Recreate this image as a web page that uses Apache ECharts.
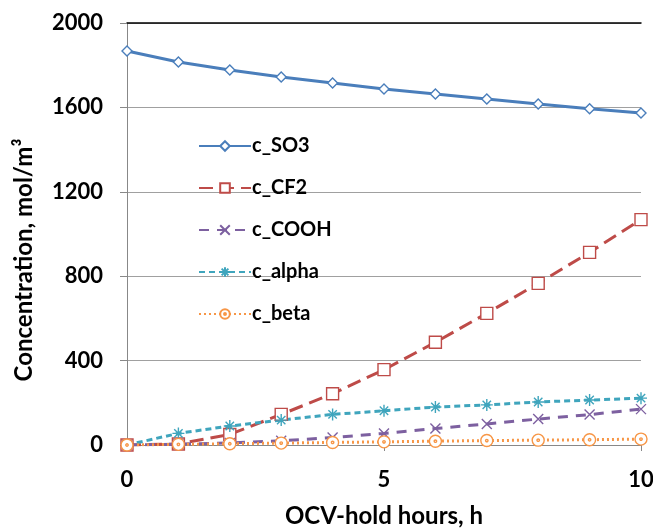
<!DOCTYPE html>
<html>
<head>
<meta charset="utf-8">
<script src="https://cdn.jsdelivr.net/npm/echarts@6/dist/echarts.min.js"></script>
<style>
  html, body { margin: 0; padding: 0; background: #fff; }
  #chart { width: 653px; height: 529px; }
</style>
</head>
<body>
<div id="chart"></div>
<script>
var hours = [0, 1, 2, 3, 4, 5, 6, 7, 8, 9, 10];
var cSO3  = [1867, 1815, 1777, 1744, 1716, 1687, 1664, 1640, 1616, 1594, 1573];
var cCF2  = [0, 5, 50, 145, 243, 357, 487, 624, 766, 913, 1068];
var cCOOH = [0, 4, 10, 20, 35, 55, 78, 100, 123, 144, 170];
var cAlpha = [0, 55, 90, 118, 145, 162, 180, 190, 204, 213, 222];
var cBeta = [0, 3, 6, 9, 12, 15, 18, 21, 23, 25, 28];

var font = 'Lato, "Open Sans", sans-serif';

function pairs(ys) {
    return hours.map(function (h, i) { return [h, ys[i]]; });
}

function line(name, ys, color, dash, symbol, size, fill) {
    return {
        name: name,
        type: 'line',
        data: pairs(ys),
        symbol: symbol,
        symbolSize: size,
        showSymbol: true,
        lineStyle: { color: color, width: 3, type: dash },
        itemStyle: { color: fill, borderColor: color, borderWidth: 1.4 },
        emphasis: { disabled: true },
        z: 3
    };
}

var option = {
    animation: false,
    textStyle: { fontFamily: font },
    grid: { left: 127, right: 12, top: 23, bottom: 84, outerBoundsMode: 'none', containLabel: false },
    legend: {
        orient: 'vertical',
        left: 193,
        top: 131,
        itemWidth: 52,
        itemHeight: 12,
        itemGap: 22,
        textStyle: { fontFamily: font, fontSize: 20, fontWeight: 'bold', color: '#000', padding: [0, 0, 0, -4] },
        data: ['c_SO3', 'c_CF2', 'c_COOH', 'c_alpha', 'c_beta']
    },
    xAxis: [{
        type: 'value',
        min: 0,
        max: 10,
        interval: 5,
        name: 'OCV-hold hours, h',
        nameLocation: 'middle',
        nameGap: 59,
        nameTextStyle: { fontFamily: font, fontSize: 24, fontWeight: 'bold', color: '#000' },
        axisLine: { show: true, lineStyle: { color: '#888', width: 1 } },
        axisTick: { show: true, inside: false, length: 6, lineStyle: { color: '#888' } },
        axisLabel: { fontFamily: font, fontSize: 22, fontWeight: 'bold', color: '#000', margin: 24 },
        splitLine: { show: false }
    }, {
        type: 'value',
        position: 'top',
        min: 0,
        max: 10,
        axisLine: { show: true, lineStyle: { color: '#000', width: 1.5 } },
        axisTick: { show: false },
        axisLabel: { show: false },
        splitLine: { show: false }
    }],
    yAxis: {
        type: 'value',
        min: 0,
        max: 2000,
        interval: 400,
        axisLine: { show: true, lineStyle: { color: '#888', width: 1 } },
        axisTick: { show: true, length: 7, lineStyle: { color: '#888' } },
        axisLabel: {
            fontFamily: font, fontSize: 22, fontWeight: 'bold', color: '#000', margin: 24,
            formatter: function (v) { return String(v); }
        },
        splitLine: { show: true, lineStyle: { color: '#a0a0a0', width: 1 } }
    },
    graphic: [{
        type: 'text',
        x: 12,
        y: 260,
        rotation: Math.PI / 2,
        style: {
            text: 'Concentration, mol/m³',
            font: 'bold 24px ' + font,
            fill: '#000',
            align: 'center',
            verticalAlign: 'top'
        }
    }],
    series: [
        line('c_SO3', cSO3, '#4a7ebb', 'solid', 'diamond', 10, '#fff'),
        line('c_CF2', cCF2, '#be4b48', [14, 7], 'rect', 12, '#fff'),
        line('c_COOH', cCOOH, '#7d60a0', [10, 8], 'path://M0,0L10,10M10,0L0,10', 10, '#7d60a0'),
        line('c_alpha', cAlpha, '#3fa5bd', [6, 4], 'path://M5,0L5,10M0,5L10,5M1.5,1.5L8.5,8.5M8.5,1.5L1.5,8.5', 12, '#3fa5bd'),
        line('c_beta', cBeta, '#f79646', [2, 3], 'path://M10,5A5,5,0,1,1,0,5A5,5,0,1,1,10,5ZM6,5A1,1,0,1,1,4,5A1,1,0,1,1,6,5Z', 12, '#fff')
    ]
};

var myChart = echarts.init(document.getElementById('chart'));
myChart.setOption(option);
</script>
</body>
</html>
